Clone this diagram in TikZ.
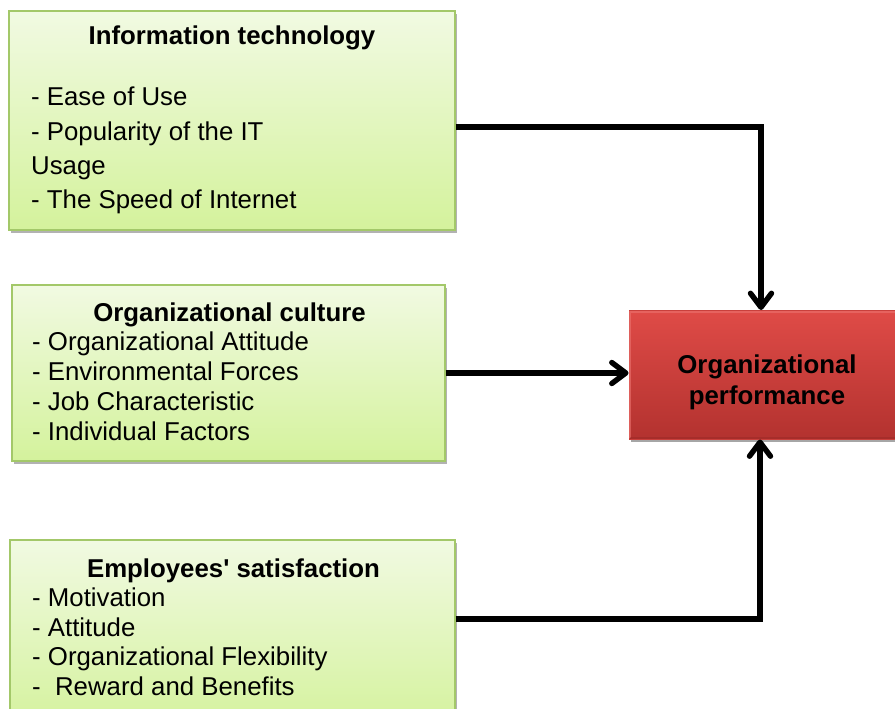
\documentclass[tikz,border=0pt]{standalone}
\usepackage{fontspec}
\setmainfont{Liberation Sans}
\usetikzlibrary{arrows.meta,shadows}
\definecolor{boxtop}{HTML}{F1FAE2}
\definecolor{boxbot}{HTML}{D4F29C}
\definecolor{boxedge}{HTML}{A3C869}
\definecolor{perftop}{HTML}{DF4B47}
\definecolor{perfbot}{HTML}{B3322F}
\definecolor{perfedge}{HTML}{C9403C}
\definecolor{perflight}{HTML}{EC7470}
\definecolor{perfdark}{HTML}{8E2623}
\begin{document}
\begin{tikzpicture}[x=1pt,y=-1pt,
  factorbox/.style={draw=boxedge, line width=1.2pt, top color=boxtop, bottom color=boxbot,
    inner sep=0pt, drop shadow={shadow xshift=2pt, shadow yshift=-3pt, opacity=0.3, fill=black}},
  perfbox/.style={draw=perfedge, line width=1pt, top color=perftop, bottom color=perfbot,
    inner sep=0pt, drop shadow={shadow xshift=2pt, shadow yshift=-3pt, opacity=0.35, fill=black}},
  txt/.style={inner sep=0pt, anchor=base west, font=\fontsize{25.8pt}{30pt}\selectfont},
  ttl/.style={inner sep=0pt, anchor=base, font=\fontsize{25.8pt}{30pt}\selectfont\bfseries},
  link/.style={line width=5.4pt, -{Straight Barb[length=14pt, width=21pt, round]}}]
\useasboundingbox (0,0) rectangle (895,709);
\clip (0,0) rectangle (895,709);
\fill[white] (0,0) rectangle (895,709);

% factor boxes
\node[factorbox, minimum width=446pt, minimum height=219pt] (it) at (232,120.5) {};
\node[factorbox, minimum width=433pt, minimum height=176pt] (oc) at (228.5,373) {};
\node[factorbox, minimum width=445pt, minimum height=190pt] (es) at (232.5,635) {};

% outcome box with a soft bevel along its edges
\node[perfbox, minimum width=276pt, minimum height=128.5pt] (perf) at (767,374.75) {};
\draw[perflight, line width=2pt, opacity=0.6]
  ([xshift=1.5pt,yshift=1.5pt]perf.south west) -- ([xshift=1.5pt,yshift=-1.5pt]perf.north west)
  -- ([xshift=-1.5pt,yshift=-1.5pt]perf.north east);
\draw[perfdark, line width=2pt, opacity=0.35]
  ([xshift=1.5pt,yshift=1.5pt]perf.south west) -- ([xshift=-1.5pt,yshift=1.5pt]perf.south east);

% Information technology
\node[ttl] (itT) at (232,45) {Information technology};
\node[txt] (it1) at (31,106) {- Ease of Use};
\node[txt] (it2) at (31,140) {- Popularity of the IT};
\node[txt] (it3) at (31,174) {Usage};
\node[txt] (it4) at (31,208) {- The Speed of Internet};

% Organizational culture
\node[ttl] (ocT) at (229.5,321) {Organizational culture};
\node[txt] (oc1) at (32,350) {- Organizational Attitude};
\node[txt] (oc2) at (32,380) {- Environmental Forces};
\node[txt] (oc3) at (32,410) {- Job Characteristic};
\node[txt] (oc4) at (32,440) {- Individual Factors};

% Employees' satisfaction
\node[ttl] (esT) at (233.5,577) {Employees\textquotesingle{} satisfaction};
\node[txt] (es1) at (32,606) {- Motivation};
\node[txt] (es2) at (32,636) {- Attitude};
\node[txt] (es3) at (32,665) {- Organizational Flexibility};
\node[txt] (es4) at (32,695) {-\ \ Reward and Benefits};

% Organizational performance
\node[ttl] (pf1) at (767,373) {Organizational};
\node[ttl] (pf2) at (767,404) {performance};

% connectors
\draw[link] ([yshift=-6.5pt]it.east) -| ([xshift=-6pt]perf.north);
\draw[link] (oc.east) -- (oc.east -| perf.west);
\draw[link] ([yshift=16pt]es.east) -| ([xshift=-7pt]perf.south);
\end{tikzpicture}
\end{document}
